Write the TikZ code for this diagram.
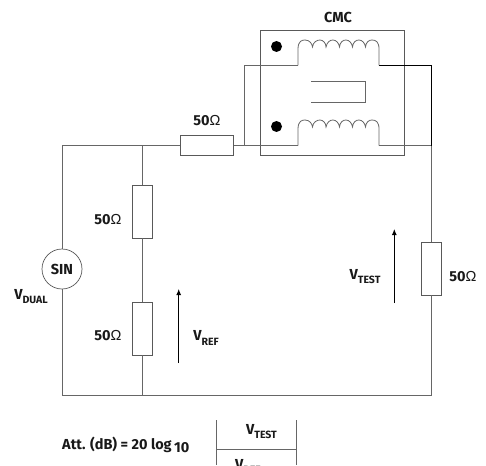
\documentclass[tikz,border=0pt]{standalone}
\usepackage{fontspec}
\setmainfont{Fira Sans}
\newfontfamily\omegafont{Liberation Sans}
\newcommand{\ohm}{\textnormal{\omegafont Ω}}
\newcommand{\volt}[1]{V\raisebox{-0.28em}{\fontsize{10.5}{12}\selectfont #1}}
\usetikzlibrary{arrows.meta}
\tikzset{
  wire/.style={draw=black!60,line width=0.8pt},
  blackwire/.style={draw=black,line width=0.8pt},
  res/.style={draw=black!65,fill=white,line width=0.7pt,inner sep=0pt,minimum width=#1},
  lab/.style={font=\fontsize{14.5}{16}\selectfont\bfseries,text=black!90,inner sep=0pt},
  sense/.style={draw=black,line width=0.9pt,-{Latex[length=6pt,width=5pt]}},
  dotmark/.style={circle,fill=black,inner sep=0pt,minimum size=11pt}
}
\begin{document}
\begin{tikzpicture}[x=1pt,y=-1pt]
\useasboundingbox (0,0) rectangle (486,465);
% corners
\coordinate (tl) at (62,145.5);
\coordinate (tj) at (142,145.5);
\coordinate (tr) at (431.5,145.5);
\coordinate (bl) at (62,395);
\coordinate (bj) at (142,395);
\coordinate (br) at (431.5,395);
\coordinate (loopA) at (244,145.5);
\coordinate (loopB) at (244,65.3);
\coordinate (c1l) at (298,65.3);
\coordinate (c1r) at (379,65.3);
\coordinate (c2l) at (298,145.5);
\coordinate (c2r) at (379,145.5);
\coordinate (rt) at (431.5,65.3);
% CMC box
\node[draw=black!65,line width=0.7pt,inner sep=0pt,minimum width=143.5pt,minimum height=125pt] (cmc) at (332.3,92.5) {};
\node[lab] (cmclabel) at (338,17.5) {CMC};
% resistors
\node[res=53pt,minimum height=20pt] (r1) at (206.7,145.5) {};
\node[res=20pt,minimum height=53pt] (r2) at (142,211.5) {};
\node[res=20pt,minimum height=53pt] (r3) at (142,328.5) {};
\node[res=20.5pt,minimum height=53pt] (r4) at (431.5,268.5) {};
\node[draw=black!65,fill=white,circle,line width=0.7pt,inner sep=0pt,minimum size=40pt,lab] (sin) at (62,269) {SIN};
% wires
\draw[wire] (sin.north) -- (tl) -- (r1.west);
\draw[wire] (sin.south) -- (bl) -- (br) -- (r4.south);
\draw[wire] (tj) -- (r2.north);
\draw[wire] (r2.south) -- (r3.north);
\draw[wire] (r3.south) -- (bj);
\draw[wire] (r1.east) -- (c2l);
\draw[wire] (loopA) -- (loopB) -- (c1l);
\draw[wire] (c2r) -- (tr);
\draw[wire] (tr) -- (r4.north);
\draw[blackwire] (c1r) -- (rt) -- (tr);
% coils
\foreach \yy/\tp in {65.3/40,145.5/120}{
  \draw[wire] (298,\yy) -- (298,\tp+9)
    .. controls (298,\tp+1) and (302,\tp) .. (305,\tp)
    .. controls (310,\tp) and (312,\tp+4) .. (312.5,\tp+7)
    .. controls (313,\tp+2) and (317,\tp) .. (320,\tp)
    .. controls (323,\tp) and (326,\tp+3) .. (326,\tp+7)
    .. controls (327,\tp+2) and (330,\tp) .. (333,\tp)
    .. controls (336,\tp) and (339,\tp+3) .. (339.5,\tp+7)
    .. controls (340,\tp+2) and (343,\tp) .. (346,\tp)
    .. controls (349,\tp) and (352,\tp+3) .. (352.5,\tp+7)
    .. controls (353,\tp+2) and (356,\tp) .. (359,\tp)
    .. controls (362,\tp) and (365,\tp+3) .. (365.5,\tp+7)
    .. controls (366,\tp+2) and (369,\tp) .. (372,\tp)
    .. controls (376,\tp) and (379,\tp+2) .. (379,\tp+9)
    -- (379,\yy);
}
% core
\draw[wire] (311,81.5) -- (365,81.5) -- (365,102) -- (311,102);
% dots
\node[dotmark] (d1) at (276.5,46.5) {};
\node[dotmark] (d2) at (276.5,126.5) {};
% labels
\node[lab] (l1) at (207,121) {50\ohm};
\node[lab] (l2) at (108,219.5) {50\ohm};
\node[lab] (l3) at (108,336) {50\ohm};
\node[lab] (l4) at (463,277) {50\ohm};
\node[lab] (vdual) at (31,297) {\volt{DUAL}};
\node[lab] (vref) at (206,338) {\volt{REF}};
\node[lab] (vtest) at (365,277) {\volt{TEST}};
% arrows
\coordinate (a1s) at (178.7,363);
\coordinate (a1e) at (178.7,289);
\coordinate (a2s) at (394.3,303);
\coordinate (a2e) at (394.3,229);
\draw[sense] (a1s) -- (a1e);
\draw[sense] (a2s) -- (a2e);
% formula
\node[lab,anchor=west] (att) at (62,445) {Att. (dB) = 20 log\raisebox{-0.2em}{\,10}};
\coordinate (fa) at (216,449);
\coordinate (fb) at (296,449);
\draw[wire] (216,420) -- (216,465);
\draw[wire] (296,420) -- (296,465);
\draw[wire] (fa) -- (fb);
\node[lab] (ftop) at (261.5,432) {\volt{TEST}};
\begin{scope}
\clip (0,0) rectangle (486,465);
\node[lab,anchor=north west] (fbot) at (235,459) {\volt{REF}};
\end{scope}
\end{tikzpicture}
\end{document}
